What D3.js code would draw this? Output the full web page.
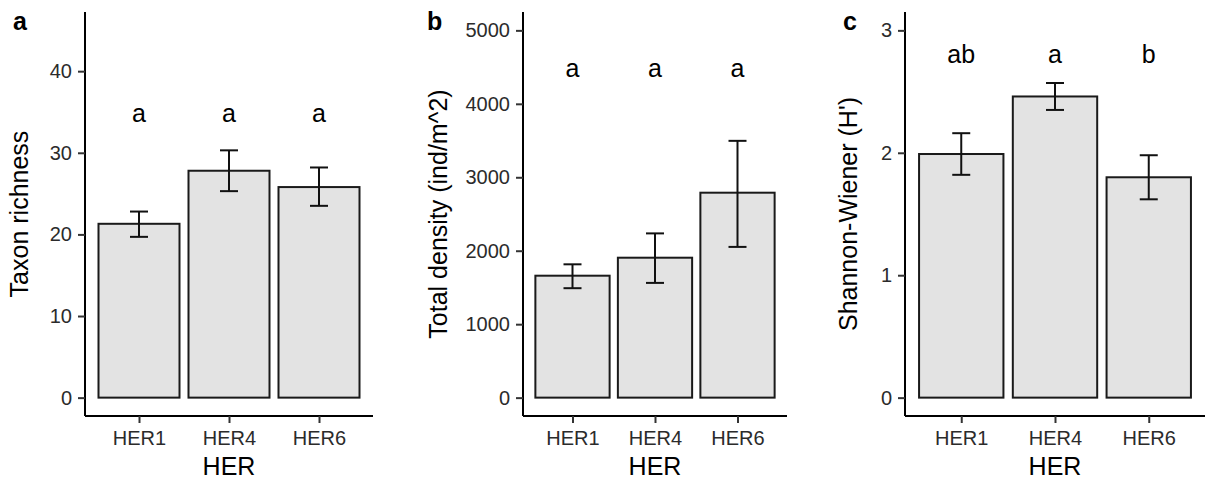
<!DOCTYPE html>
<html lang="en">
<head>
    <meta charset="UTF-8">
    <title>HER bar charts</title>
    <script src="https://cdn.jsdelivr.net/npm/d3@7"></script>
    <style>
        body {
            margin: 0;
            background-color: #ffffff;
        }

        svg {
            display: block;
            font-family: 'Liberation Sans', Arial, sans-serif;
        }
    </style>
</head>
<body>
    <svg id="chart" width="1207" height="479"></svg>

    <script>
        // groups on the x axis
        const groups = ["HER1", "HER4", "HER6"];

        // a: taxon richness (mean, lower and upper error)
        const richnessMean = [21.3, 27.8, 25.8];
        const richnessLow = [19.7, 25.3, 23.5];
        const richnessHigh = [22.8, 30.3, 28.2];
        const richnessLetters = ["a", "a", "a"];
        const richnessTicks = [0, 10, 20, 30, 40];

        // b: total density
        const densityMean = [1660, 1905, 2790];
        const densityLow = [1490, 1562, 2052];
        const densityHigh = [1815, 2236, 3496];
        const densityLetters = ["a", "a", "a"];
        const densityTicks = [0, 1000, 2000, 3000, 4000, 5000];

        // c: Shannon-Wiener
        const shannonMean = [1.99, 2.46, 1.80];
        const shannonLow = [1.82, 2.35, 1.62];
        const shannonHigh = [2.16, 2.57, 1.98];
        const shannonLetters = ["ab", "a", "b"];
        const shannonTicks = [0, 1, 2, 3];

        const panels = [
            { tag: "a", title: "Taxon richness", mean: richnessMean, low: richnessLow, high: richnessHigh,
              letters: richnessLetters, letterY: 34.85, limit: 45, ticks: richnessTicks,
              x0: 85, x1: 373, titleX: 28, tagX: 13 },
            { tag: "b", title: "Total density (ind/m^2)", mean: densityMean, low: densityLow, high: densityHigh,
              letters: densityLetters, letterY: 4490, limit: 5000, ticks: densityTicks,
              x0: 523, x1: 787, titleX: 447, tagX: 427 },
            { tag: "c", title: "Shannon-Wiener (H')", mean: shannonMean, low: shannonLow, high: shannonHigh,
              letters: shannonLetters, letterY: 2.805, limit: 3, ticks: shannonTicks,
              x0: 905, x1: 1205, titleX: 857, tagX: 843 }
        ];

        const plotTop = 12;
        const plotBottom = 416;
        const svg = d3.select("#chart");

        panels.forEach(p => {
            const g = svg.append("g");

            const x = d3.scalePoint()
                .domain(groups)
                .range([p.x0, p.x1])
                .padding(0.6);
            const barW = x.step() * 0.9;

            // ggplot style 5% expansion on both ends
            const y = d3.scaleLinear()
                .domain([-0.05 * p.limit, 1.05 * p.limit])
                .range([plotBottom, plotTop]);

            // bars
            g.selectAll("rect.bar")
                .data(groups)
                .join("rect")
                .attr("class", "bar")
                .attr("x", d => x(d) - barW / 2)
                .attr("width", barW)
                .attr("y", (d, i) => y(p.mean[i]))
                .attr("height", (d, i) => y(0) - y(p.mean[i]))
                .attr("fill", "#e3e3e3")
                .attr("stroke", "#1a1a1a")
                .attr("stroke-width", 2);

            // error bars
            const eb = g.selectAll("g.err")
                .data(groups)
                .join("g")
                .attr("class", "err")
                .attr("stroke", "#111")
                .attr("stroke-width", 2);
            eb.append("line")
                .attr("x1", d => x(d)).attr("x2", d => x(d))
                .attr("y1", (d, i) => y(p.low[i]))
                .attr("y2", (d, i) => y(p.high[i]));
            eb.append("line")
                .attr("x1", d => x(d) - 9).attr("x2", d => x(d) + 9)
                .attr("y1", (d, i) => y(p.low[i]))
                .attr("y2", (d, i) => y(p.low[i]));
            eb.append("line")
                .attr("x1", d => x(d) - 9).attr("x2", d => x(d) + 9)
                .attr("y1", (d, i) => y(p.high[i]))
                .attr("y2", (d, i) => y(p.high[i]));

            // significance letters
            g.selectAll("text.letter")
                .data(groups)
                .join("text")
                .attr("class", "letter")
                .attr("x", d => x(d))
                .attr("y", y(p.letterY))
                .attr("dy", "0.35em")
                .attr("text-anchor", "middle")
                .attr("font-size", "25px")
                .attr("fill", "#000")
                .text((d, i) => p.letters[i]);

            // y axis
            const yAxis = g.append("g")
                .attr("transform", `translate(${p.x0},0)`)
                .call(d3.axisLeft(y).tickValues(p.ticks).tickSize(7).tickPadding(6).tickFormat(d3.format("d")));
            yAxis.select(".domain").attr("d", `M0,${plotTop}V${plotBottom}`).attr("stroke-width", 2);
            yAxis.selectAll(".tick line").attr("stroke-width", 2).attr("stroke", "#333");
            yAxis.selectAll(".tick text")
                .attr("font-size", "20px")
                .attr("font-family", "'Liberation Sans', Arial, sans-serif")
                .attr("fill", "#2b2b2b");

            // x axis
            const xAxis = g.append("g")
                .attr("transform", `translate(0,${plotBottom})`)
                .call(d3.axisBottom(x).tickSize(7).tickPadding(8));
            xAxis.select(".domain").attr("d", `M${p.x0},0H${p.x1}`).attr("stroke-width", 2);
            xAxis.selectAll(".tick line").attr("stroke-width", 2).attr("stroke", "#333");
            xAxis.selectAll(".tick text")
                .attr("font-size", "20px")
                .attr("font-family", "'Liberation Sans', Arial, sans-serif")
                .attr("fill", "#2b2b2b");

            // axis titles
            g.append("text")
                .attr("x", (p.x0 + p.x1) / 2)
                .attr("y", 475)
                .attr("text-anchor", "middle")
                .attr("font-size", "25px")
                .text("HER");

            g.append("text")
                .attr("transform", `translate(${p.titleX},${(plotTop + plotBottom) / 2}) rotate(-90)`)
                .attr("text-anchor", "middle")
                .attr("font-size", "25px")
                .text(p.title);

            // panel tag
            g.append("text")
                .attr("x", p.tagX)
                .attr("y", 30)
                .attr("font-size", "25px")
                .attr("font-weight", "bold")
                .text(p.tag);
        });
    </script>
</body>
</html>
